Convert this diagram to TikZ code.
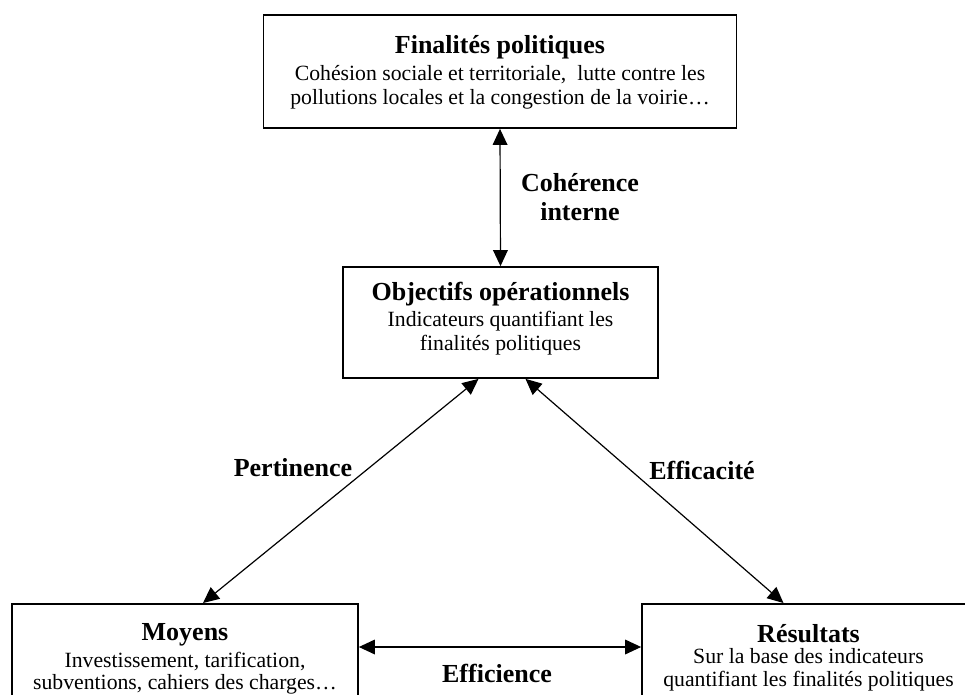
\documentclass[tikz,border=0pt]{standalone}
\usepackage{fontspec}
\setmainfont{Liberation Serif}
\usetikzlibrary{arrows.meta,positioning}

\begin{document}
\begin{tikzpicture}[x=0.75pt,y=-0.75pt,
    box/.style={draw,line width=1.3pt,inner sep=0pt},
    titre/.style={font=\fontsize{19.5}{22}\selectfont\bfseries,inner sep=0pt},
    corps/.style={font=\fontsize{16.3}{18}\selectfont,align=center,inner sep=0pt},
    lbl/.style={font=\fontsize{19.5}{21.75}\selectfont\bfseries,align=center,inner sep=0pt},
    link/.style={line width=0.9pt,{Triangle[length=12pt,width=11pt]}-{Triangle[length=12pt,width=11pt]}}]

    \useasboundingbox (0,0) rectangle (965,694);
    \clip (0,0) rectangle (965,694);

    % Boxes
    \node[box,minimum width=354.75pt,minimum height=84.75pt] (fin) at (500,71.5) {};
    \node[box,minimum width=236.25pt,minimum height=83.25pt] (obj) at (500.5,322.5) {};
    \node[box,minimum width=259.5pt,minimum height=90pt,anchor=north] (moy) at (185,603) {};
    \node[box,minimum width=249.75pt,minimum height=90pt,anchor=north] (res) at (808.5,603) {};

    % Box texts
    \node[titre,below=15.5pt of fin.north] (fintitre) {Finalités politiques};
    \node[corps,below=5pt of fintitre] (fintxt) {Cohésion sociale et territoriale,\ \ lutte contre les\\pollutions locales et la congestion de la voirie…};
    \node[titre,below=12pt of obj.north] (objtitre) {Objectifs opérationnels};
    \node[corps,below=3.5pt of objtitre] (objtxt) {Indicateurs quantifiant les\\finalités politiques};
    \node[titre,below=15.5pt of moy.north] (moytitre) {Moyens};
    \node[corps,below=3.5pt of moytitre,font=\fontsize{16.3}{16.5}\selectfont] (moytxt) {Investissement, tarification,\\subventions, cahiers des charges…};
    \node[titre,below=16pt of res.north] (restitre) {Résultats};
    \node[corps,below=4pt of restitre,font=\fontsize{16.3}{17}\selectfont] (restxt) {Sur la base des indicateurs\\quantifiant les finalités politiques};

    % Link labels
    \node[lbl] (coherence) at (580,197) {Cohérence\\interne};
    \node[lbl] (pertinence) at (293,468) {Pertinence};
    \node[lbl] (efficacite) at (702,470) {Efficacité};
    \node[lbl] (efficience) at (497,673) {Efficience};

    % Links
    \coordinate (effline) at (500,647);
    \draw[link] (fin.south) -- (obj.north);
    \draw[link] ([xshift=-16.5pt]obj.south) -- ([xshift=13.5pt]moy.north);
    \draw[link] ([xshift=18.75pt]obj.south) -- ([xshift=-18.75pt]res.north);
    \draw[link] (moy.east |- effline) -- (res.west |- effline);

\end{tikzpicture}
\end{document}
